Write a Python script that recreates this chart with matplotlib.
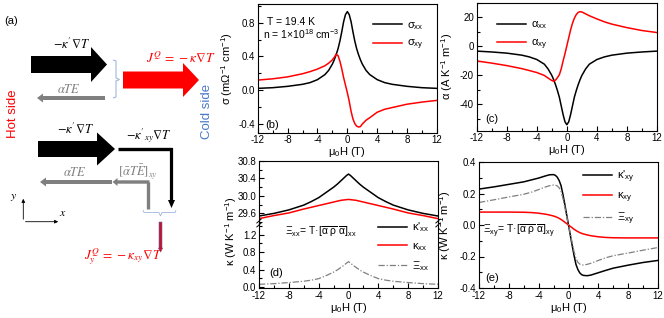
import matplotlib
matplotlib.use("Agg")
import matplotlib.pyplot as plt
from matplotlib.patches import Polygon, FancyArrow, PathPatch
from matplotlib.path import Path
from matplotlib.ticker import MultipleLocator, FormatStrFormatter

plt.rcParams["font.family"] = ["Liberation Sans", "DejaVu Sans"]
plt.rcParams["mathtext.fontset"] = "custom"
plt.rcParams["mathtext.rm"] = "Liberation Sans"
plt.rcParams["mathtext.it"] = "Liberation Sans:italic"
plt.rcParams["mathtext.bf"] = "Liberation Sans:bold"
plt.rcParams["axes.unicode_minus"] = False

# magnetic field grid (T)
field = [-12, -10, -8, -6, -5, -4, -3, -2.5, -2, -1.75, -1.5, -1.25, -1, -0.75, -0.5, -0.25,
         0, 0.25, 0.5, 0.75, 1, 1.25, 1.5, 1.75, 2, 2.5, 3, 4, 5, 6, 8, 10, 12]

# (b) conductivity, mOhm^-1 cm^-1
sigma_xx = [0.022, 0.030, 0.046, 0.070, 0.090, 0.125, 0.185, 0.235, 0.310, 0.360, 0.420, 0.490,
            0.580, 0.690, 0.810, 0.895, 0.930, 0.895, 0.810, 0.690, 0.580, 0.490, 0.420, 0.360,
            0.310, 0.235, 0.185, 0.125, 0.090, 0.070, 0.046, 0.030, 0.022]
sigma_xy = [0.120, 0.135, 0.158, 0.195, 0.220, 0.250, 0.290, 0.320, 0.360, 0.390, 0.425, 0.410,
            0.345, 0.255, 0.150, 0.060, -0.030, -0.130, -0.250, -0.340, -0.395, -0.425, -0.435,
            -0.430, -0.400, -0.355, -0.325, -0.260, -0.225, -0.205, -0.165, -0.140, -0.120]

# (c) thermoelectric conductivity, A K^-1 m^-1
alpha_xx = [-3.2, -3.8, -4.6, -6.0, -7.2, -9.0, -12.2, -15.5, -20.0, -23.0, -26.5, -30.5, -35.0,
            -41.0, -47.0, -52.0, -54.0, -52.0, -47.0, -41.0, -35.0, -30.5, -26.5, -23.0, -20.0,
            -15.5, -12.2, -9.0, -7.2, -6.0, -4.6, -3.8, -3.2]
alpha_xy = [-10.0, -11.5, -13.2, -15.3, -16.6, -18.0, -20.0, -21.8, -23.5, -24.0, -23.2, -21.5,
            -19.5, -15.5, -10.0, -5.0, 0.5, 6.0, 11.5, 16.0, 19.5, 22.0, 23.5, 24.0, 23.8, 22.5,
            21.2, 19.0, 17.0, 15.4, 13.0, 11.0, 9.6]

# (d) longitudinal thermal conductivity, W K^-1 m^-1
kappa_p_xx = [29.54, 29.60, 29.68, 29.79, 29.87, 29.96, 30.08, 30.14, 30.20, 30.235, 30.27, 30.31,
              30.35, 30.39, 30.43, 30.47, 30.50, 30.47, 30.43, 30.39, 30.35, 30.31, 30.27, 30.235,
              30.20, 30.14, 30.08, 29.96, 29.87, 29.79, 29.68, 29.60, 29.54]
kappa_xx = [29.48, 29.55, 29.61, 29.70, 29.74, 29.78, 29.82, 29.84, 29.86, 29.87, 29.88, 29.89,
            29.90, 29.905, 29.91, 29.915, 29.92, 29.915, 29.91, 29.905, 29.90, 29.89, 29.88, 29.87,
            29.86, 29.84, 29.82, 29.78, 29.74, 29.70, 29.61, 29.55, 29.48]
xi_xx = [0.060, 0.075, 0.100, 0.130, 0.155, 0.190, 0.260, 0.300, 0.340, 0.365, 0.390, 0.420,
         0.450, 0.480, 0.515, 0.550, 0.580, 0.550, 0.515, 0.480, 0.450, 0.420, 0.390, 0.365,
         0.340, 0.300, 0.260, 0.190, 0.155, 0.130, 0.100, 0.075, 0.060]

# (e) transverse thermal conductivity, W K^-1 m^-1
kappa_p_xy = [0.228, 0.242, 0.258, 0.274, 0.286, 0.298, 0.313, 0.319, 0.320, 0.315, 0.303, 0.282,
              0.250, 0.195, 0.132, 0.066, 0.0, -0.066, -0.132, -0.195, -0.250, -0.282, -0.303,
              -0.315, -0.320, -0.322, -0.318, -0.303, -0.288, -0.274, -0.255, -0.238, -0.225]
kappa_xy = [0.082, 0.082, 0.082, 0.081, 0.079, 0.075, 0.068, 0.063, 0.057, 0.053, 0.048, 0.042,
            0.035, 0.027, 0.018, 0.009, 0.0, -0.009, -0.018, -0.027, -0.035, -0.042, -0.048,
            -0.053, -0.057, -0.063, -0.068, -0.075, -0.079, -0.081, -0.082, -0.082, -0.082]
xi_xy = [0.143, 0.160, 0.178, 0.195, 0.208, 0.225, 0.243, 0.250, 0.254, 0.253, 0.248, 0.236,
         0.213, 0.170, 0.114, 0.057, 0.0, -0.057, -0.114, -0.170, -0.213, -0.236, -0.248,
         -0.253, -0.254, -0.250, -0.243, -0.225, -0.208, -0.195, -0.178, -0.160, -0.143]

fig = plt.figure(figsize=(6.64, 3.18), dpi=100)

# ---------- (a) schematic, drawn in pixel coordinates ----------
sk = fig.add_axes([0, 0, 1, 1])
sk.set_xlim(0, 664)
sk.set_ylim(318, 0)
sk.axis("off")

grey = "#7f7f7f"
brace = "#9fb6dc"


def block_arrow(x0, x1, xt, yc, hb, hh, color):
    pts = [(x0, yc - hb), (x1, yc - hb), (x1, yc - hh), (xt, yc), (x1, yc + hh),
           (x1, yc + hb), (x0, yc + hb)]
    sk.add_patch(Polygon(pts, closed=True, fc=color, ec="none"))


def math(x, y, s, color="black", size=9, **kw):
    sk.text(x, y, s, color=color, fontsize=size, ha="center", va="center",
            math_fontfamily="stix", **kw)


block_arrow(31, 91, 107, 64.5, 8.5, 17.5, "black")
block_arrow(123, 183, 199, 80, 8.5, 17, "red")
block_arrow(38, 97, 115, 149, 8, 16.5, "black")
sk.add_patch(FancyArrow(105, 98, -68, 0, width=4, head_width=9, head_length=6,
                        length_includes_head=True, fc=grey, ec="none"))
sk.add_patch(FancyArrow(112, 182, -72, 0, width=4, head_width=9, head_length=6,
                        length_includes_head=True, fc=grey, ec="none"))
# grey L arrow
sk.plot([148.3, 148.3], [209, 182], color=grey, lw=2.4, solid_capstyle="butt")
sk.add_patch(FancyArrow(149.5, 182, -37, 0, width=3.4, head_width=8, head_length=5,
                        length_includes_head=True, fc=grey, ec="none"))
# black L arrow
sk.plot([118, 171.5], [149.3, 149.3], color="black", lw=2.4, solid_capstyle="butt")
sk.add_patch(FancyArrow(171.5, 148, 0, 60, width=3.2, head_width=7, head_length=8,
                        length_includes_head=True, fc="black", ec="none"))
# red thin arrow
sk.add_patch(FancyArrow(160.5, 222, 0, 30, width=3, head_width=4.5, head_length=4,
                        length_includes_head=True, fc="#c8102e", ec="#5a6fa8", lw=0.4))
# braces
b1 = Path([(113, 60), (116, 61), (116, 78), (119.5, 79.5), (116, 81), (116, 97), (113, 98)])
sk.add_patch(PathPatch(b1, fc="none", ec=brace, lw=0.8))
b2 = Path([(143, 210), (144, 212.5), (159, 212.5), (160.5, 216), (162, 212.5), (175, 212.5),
           (176, 210)])
sk.add_patch(PathPatch(b2, fc="none", ec=brace, lw=0.6))
# coordinate axes
sk.annotate("", xy=(23.3, 196), xytext=(23.3, 222),
            arrowprops=dict(arrowstyle="-|>", lw=0.6, color="black", mutation_scale=5))
sk.annotate("", xy=(61, 221.7), xytext=(22.7, 221.7),
            arrowprops=dict(arrowstyle="-|>", lw=0.6, color="black", mutation_scale=5))
math(14, 197, r"$y$", size=8.5)
math(62.5, 213, r"$x$", size=8.5)

math(72, 43.5, r"$-\kappa'\nabla T$")
math(68.5, 89.5, r"$\alpha TE$", color=grey)
math(181, 57, r"$J^{Q}\,=\,-\kappa\nabla T$", color="red", size=9.5)
math(76, 128.5, r"$-\kappa'\nabla T$")
math(149, 136, r"$-\kappa'_{xy}\nabla T$")
math(75, 173, r"$\alpha TE$", color=grey)
math(138, 172, r"$[\bar{\alpha}T\bar{E}]_{xy}$", color=grey)
math(123, 257, r"$J_{y}^{Q}\,=\,-\kappa_{xy}\nabla T$", color="red", size=9.5)

sk.text(13.5, 113.5, "Hot side", color="red", fontsize=9.5, rotation=90, ha="center",
        va="center")
sk.text(206.5, 111.5, "Cold side", color="#4a78c8", fontsize=9.5, rotation=90, ha="center",
        va="center")
sk.text(11.5, 21.5, "(a)", fontsize=8, ha="center", va="center")

# ---------- panels ----------
W, Hgt = 664.0, 318.0


def px_axes(left, top, right, bottom):
    return fig.add_axes([left / W, 1 - bottom / Hgt, (right - left) / W, (bottom - top) / Hgt])


def style(ax, bottom=True):
    ax.tick_params(which="both", direction="in", top=False, right=False, labelsize=7,
                   width=0.8, pad=2)
    ax.tick_params(which="major", length=3.5)
    ax.tick_params(which="minor", length=2)
    for s in ax.spines.values():
        s.set_linewidth(0.8)
    ax.set_xlim(-12, 12)
    ax.xaxis.set_major_locator(MultipleLocator(4))
    ax.xaxis.set_minor_locator(MultipleLocator(2))
    if bottom:
        ax.set_xlabel(r"μ$_\mathregular{0}$H (T)", fontsize=8, labelpad=0)


lw = 1.1
leg_kw = dict(frameon=False, fontsize=8, handlelength=2.6, handletextpad=0.45,
              borderaxespad=0, borderpad=0)
dashdot = (0, (5, 1.5, 1, 1.5))
abar = r"$[\overline{\mathregular{α}}\ \overline{\mathregular{ρ}}\ \overline{\mathregular{α}}]$"

# (b)
ax_b = px_axes(257.7, 4, 437, 132.5)
style(ax_b)
ax_b.plot(field, sigma_xx, color="black", lw=lw, label=r"σ$_\mathregular{xx}$")
ax_b.plot(field, sigma_xy, color="red", lw=lw, label=r"σ$_\mathregular{xy}$")
ax_b.set_ylim(-0.5, 1.02)
ax_b.yaxis.set_major_locator(MultipleLocator(0.4))
ax_b.yaxis.set_minor_locator(MultipleLocator(0.2))
ax_b.yaxis.set_major_formatter(FormatStrFormatter("%.1f"))
ax_b.set_ylabel(r"σ (mΩ$^\mathregular{-1}$ cm$^\mathregular{-1}$)", fontsize=8)
ax_b.yaxis.set_label_coords(-0.127, 0.5)
ax_b.legend(loc="upper left", bbox_to_anchor=(0.645, 0.875), labelspacing=0.55, **leg_kw)
ax_b.text(0.05, 0.86, "T = 19.4 K", transform=ax_b.transAxes, fontsize=7.5, va="center")
ax_b.text(0.028, 0.765, r"n = 1×10$^\mathregular{18}$ cm$^\mathregular{-3}$",
          transform=ax_b.transAxes, fontsize=7.5, va="center")
ax_b.text(0.04, 0.055, "(b)", transform=ax_b.transAxes, fontsize=8, va="center")

# (c)
ax_c = px_axes(476.7, 3, 657, 130.5)
style(ax_c)
ax_c.plot(field, alpha_xx, color="black", lw=lw, label=r"α$_\mathregular{xx}$")
ax_c.plot(field, alpha_xy, color="red", lw=lw, label=r"α$_\mathregular{xy}$")
ax_c.set_ylim(-58, 30)
ax_c.yaxis.set_major_locator(MultipleLocator(20))
ax_c.yaxis.set_minor_locator(MultipleLocator(10))
ax_c.set_ylabel(r"α (A K$^\mathregular{-1}$ m$^\mathregular{-1}$)", fontsize=8)
ax_c.yaxis.set_label_coords(-0.12, 0.5)
ax_c.legend(loc="upper left", bbox_to_anchor=(0.111, 0.87), labelspacing=0.55, **leg_kw)
ax_c.text(0.05, 0.092, "(c)", transform=ax_c.transAxes, fontsize=8, va="center")

# (d) broken axis
ax_du = px_axes(259, 161, 438, 223)
ax_dl = px_axes(259, 223, 438, 288)
style(ax_du, bottom=False)
style(ax_dl)
ax_du.spines["bottom"].set_visible(False)
ax_du.tick_params(which="both", bottom=False, labelbottom=False)
ax_dl.spines["top"].set_visible(False)
ax_du.plot(field, kappa_p_xx, color="black", lw=lw)
ax_du.plot(field, kappa_xx, color="red", lw=lw)
ax_dl.plot(field, xi_xx, color="grey", lw=0.9, ls=dashdot)
ax_dl.plot([], [], color="black", lw=lw, label=r"κ'$_\mathregular{xx}$")
ax_dl.plot([], [], color="red", lw=lw, label=r"κ$_\mathregular{xx}$")
ax_dl.plot([], [], color="grey", lw=0.9, ls=dashdot, label=r"Ξ$_\mathregular{xx}$")
ax_du.set_ylim(29.38, 30.8)
ax_du.yaxis.set_major_locator(MultipleLocator(0.4))
ax_du.yaxis.set_minor_locator(MultipleLocator(0.2))
ax_du.yaxis.set_major_formatter(FormatStrFormatter("%.1f"))
ax_dl.set_ylim(-0.025, 1.47)
ax_dl.yaxis.set_major_locator(MultipleLocator(0.4))
ax_dl.yaxis.set_minor_locator(MultipleLocator(0.2))
ax_dl.yaxis.set_major_formatter(FormatStrFormatter("%.1f"))
ax_dl.legend(loc="upper left", bbox_to_anchor=(0.665, 1.04), labelspacing=0.6, **leg_kw)
ax_dl.text(0.145, 0.87, r"Ξ$_\mathregular{xx}$= T·" + abar + r"$_\mathregular{xx}$",
           transform=ax_dl.transAxes, fontsize=7.5, va="center")
ax_dl.text(0.06, 0.23, "(d)", transform=ax_dl.transAxes, fontsize=8, va="center")
fig.text(231 / W, 1 - 231 / Hgt, r"κ (W K$^\mathregular{-1}$ m$^\mathregular{-1}$)",
         rotation=90, fontsize=8, ha="center", va="center")
# break marks on both spines
for xb in (0.0, 1.0):
    for dy in (-0.03, 0.03):
        ax_dl.plot([xb - 0.012, xb + 0.012], [1 + dy - 0.03, 1 + dy + 0.03],
                   transform=ax_dl.transAxes, color="black", lw=0.7, clip_on=False)

# (e)
ax_e = px_axes(479, 162, 658, 288)
style(ax_e)
ax_e.plot(field, kappa_p_xy, color="black", lw=lw, label=r"κ'$_\mathregular{xy}$")
ax_e.plot(field, kappa_xy, color="red", lw=lw, label=r"κ$_\mathregular{xy}$")
ax_e.plot(field, xi_xy, color="grey", lw=0.9, ls=dashdot, label=r"Ξ$_\mathregular{xy}$")
ax_e.set_ylim(-0.4, 0.4)
ax_e.yaxis.set_major_locator(MultipleLocator(0.2))
ax_e.yaxis.set_minor_locator(MultipleLocator(0.1))
ax_e.yaxis.set_major_formatter(FormatStrFormatter("%.1f"))
ax_e.set_ylabel(r"κ (W K$^\mathregular{-1}$ m$^\mathregular{-1}$)", fontsize=8)
ax_e.yaxis.set_label_coords(-0.143, 0.5)
ax_e.legend(loc="upper left", bbox_to_anchor=(0.583, 0.95), labelspacing=0.5, **leg_kw)
ax_e.text(0.022, 0.46, r"Ξ$_\mathregular{xy}$= T·" + abar + r"$_\mathregular{xy}$",
          transform=ax_e.transAxes, fontsize=7.5, va="center")
ax_e.text(0.034, 0.077, "(e)", transform=ax_e.transAxes, fontsize=8, va="center")

fig.savefig("out.png", dpi=100)
